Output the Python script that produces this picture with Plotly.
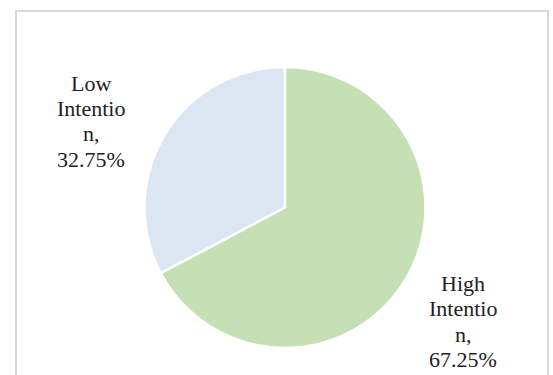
import plotly.graph_objects as go

# Share of respondents by intention level
labels = ["Low Intention", "High Intention"]
values = [32.75, 67.25]
colors = ["#dbe6f2", "#c5e0b4"]

W, H = 553, 375


def px_x(x):
    return x / W


def px_y(y):
    return 1 - y / H


def wrap(label, width=8):
    """Hard-wrap a label into lines of at most `width` characters."""
    lines = []
    for word in label.split():
        while len(word) > width:
            lines.append(word[:width])
            word = word[width:]
        lines.append(word)
    return lines


total = sum(values)
# Low slice ends exactly at 12 o'clock, sitting on the left of the pie
start_angle = -360 * values[0] / total

fig = go.Figure(
    go.Pie(
        labels=labels,
        values=values,
        sort=False,
        direction="clockwise",
        rotation=start_angle,
        marker=dict(colors=colors, line=dict(color="white", width=2.5)),
        textinfo="none",
        hoverinfo="label+percent",
        showlegend=False,
        domain=dict(x=[px_x(144), px_x(426)], y=[px_y(348), px_y(67)]),
    )
)

# Data labels (category name + share), one line per annotation so the
# line pitch stays compact
label_pos = [(91, 83), (463, 283)]  # centre x, first-line centre y
line_pitch = 25.5
font = dict(family="Liberation Serif, Times New Roman, serif", size=22, color="#222222")
for lab, val, (cx, cy) in zip(labels, values, label_pos):
    lines = wrap(lab)
    lines[-1] += ","
    lines.append(f"{val / total * 100:.2f}%")
    for i, line in enumerate(lines):
        fig.add_annotation(
            x=px_x(cx), y=px_y(cy + i * line_pitch), xref="paper", yref="paper",
            text=line, showarrow=False, align="center",
            xanchor="center", yanchor="middle", font=font,
        )

# Chart-area frame (open at the bottom edge)
fig.add_shape(
    type="rect", xref="paper", yref="paper",
    x0=px_x(16), x1=px_x(548), y0=px_y(380), y1=px_y(11),
    line=dict(color="#d9d9d9", width=2), fillcolor="rgba(0,0,0,0)",
)

fig.update_layout(
    width=W, height=H,
    margin=dict(l=0, r=0, t=0, b=0),
    paper_bgcolor="white", plot_bgcolor="white",
)

fig.write_html("out.html")
